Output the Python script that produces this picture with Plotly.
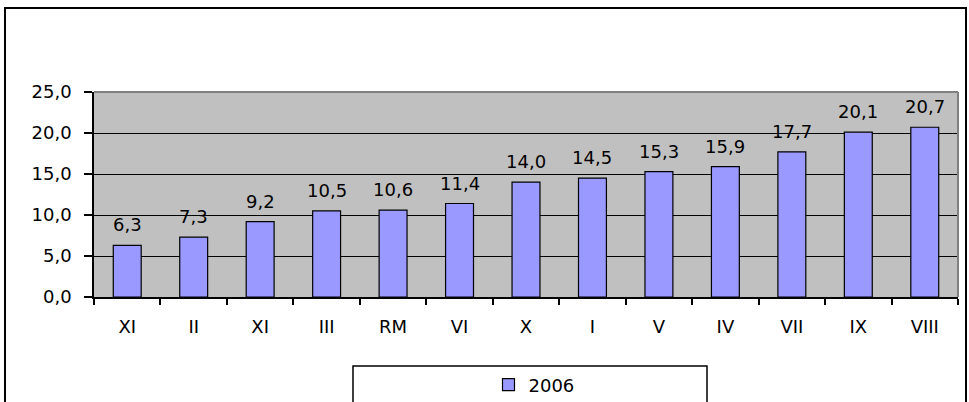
import plotly.graph_objects as go

categories = ["XI", "II", "XI", "III", "RM", "VI", "X", "I", "V", "IV", "VII", "IX", "VIII"]
values_2006 = [6.3, 7.3, 9.2, 10.5, 10.6, 11.4, 14.0, 14.5, 15.3, 15.9, 17.7, 20.1, 20.7]
series_name = "2006"
y_ticks = [0, 5, 10, 15, 20, 25]

positions = list(range(len(categories)))
boundaries = [p - 0.5 for p in positions] + [positions[-1] + 0.5]

FONT = "DejaVu Sans, Verdana, sans-serif"
FS = 18

fig = go.Figure()
fig.add_trace(go.Bar(
    x=positions, y=values_2006, name=series_name,
    marker=dict(color="#9999FF", line=dict(color="black", width=1.2)),
    showlegend=True,
))

for p, v in zip(positions, values_2006):
    fig.add_annotation(x=p, y=v, text=f"{v:.1f}".replace(".", ","),
                       showarrow=False, yanchor="bottom", yshift=8,
                       font=dict(family=FONT, size=FS, color="black"))

W, H = 969, 402
L, R, T, B = 94, 11, 92, 105
pw, ph = W - L - R, H - T - B

def px(xp):
    return (xp - L) / pw

def py(yp):
    return (H - B - yp) / ph

shapes = [
    # outer frame
    dict(type="rect", xref="paper", yref="paper", x0=px(5), x1=px(966), y0=py(430), y1=py(8),
         line=dict(color="black", width=2), layer="below"),
    # top & right plot border in gray
    dict(type="line", xref="paper", yref="paper", x0=0, x1=1, y0=1, y1=1,
         line=dict(color="#808080", width=2)),
    dict(type="line", xref="paper", yref="paper", x0=1, x1=1, y0=0, y1=1,
         line=dict(color="#808080", width=2)),
    # legend box
    dict(type="rect", xref="paper", yref="paper", x0=px(353), x1=px(707), y0=py(430), y1=py(366),
         line=dict(color="black", width=1.5)),
]

fig.update_layout(
    width=W, height=H,
    margin=dict(l=L, r=R, t=T, b=B, autoexpand=False),
    paper_bgcolor="white", plot_bgcolor="#C0C0C0",
    font=dict(family=FONT, size=FS, color="black"),
    separators=",.",
    bargap=0.58,
    shapes=shapes,
    showlegend=True,
    legend=dict(x=px(534), y=py(385), xanchor="center", yanchor="middle",
                bgcolor="rgba(0,0,0,0)", borderwidth=0,
                font=dict(family=FONT, size=FS, color="black"),
                itemwidth=30),
    xaxis=dict(
        range=[-0.5, len(categories) - 0.5],
        tickvals=positions, ticktext=categories,
        ticks="", showgrid=False, zeroline=False,
        showline=True, linecolor="black", linewidth=1.5,
        ticklabelstandoff=13,
        tickfont=dict(family=FONT, size=FS, color="black"),
        minor=dict(tickvals=boundaries, ticks="outside", ticklen=6,
                   tickcolor="black", tickwidth=1.5, showgrid=False),
    ),
    yaxis=dict(
        range=[0, 25], tickvals=y_ticks, tickformat=".1f",
        ticks="outside", ticklen=8, tickcolor="black", tickwidth=1.5,
        showgrid=True, gridcolor="black", gridwidth=1,
        zeroline=False, showline=True, linecolor="black", linewidth=1.5,
        ticklabelstandoff=9,
        tickfont=dict(family=FONT, size=FS, color="black"),
    ),
)

fig.write_html("out.html", config={"displayModeBar": False},
               post_script="document.body.style.margin='0';document.body.style.overflow='hidden';")
